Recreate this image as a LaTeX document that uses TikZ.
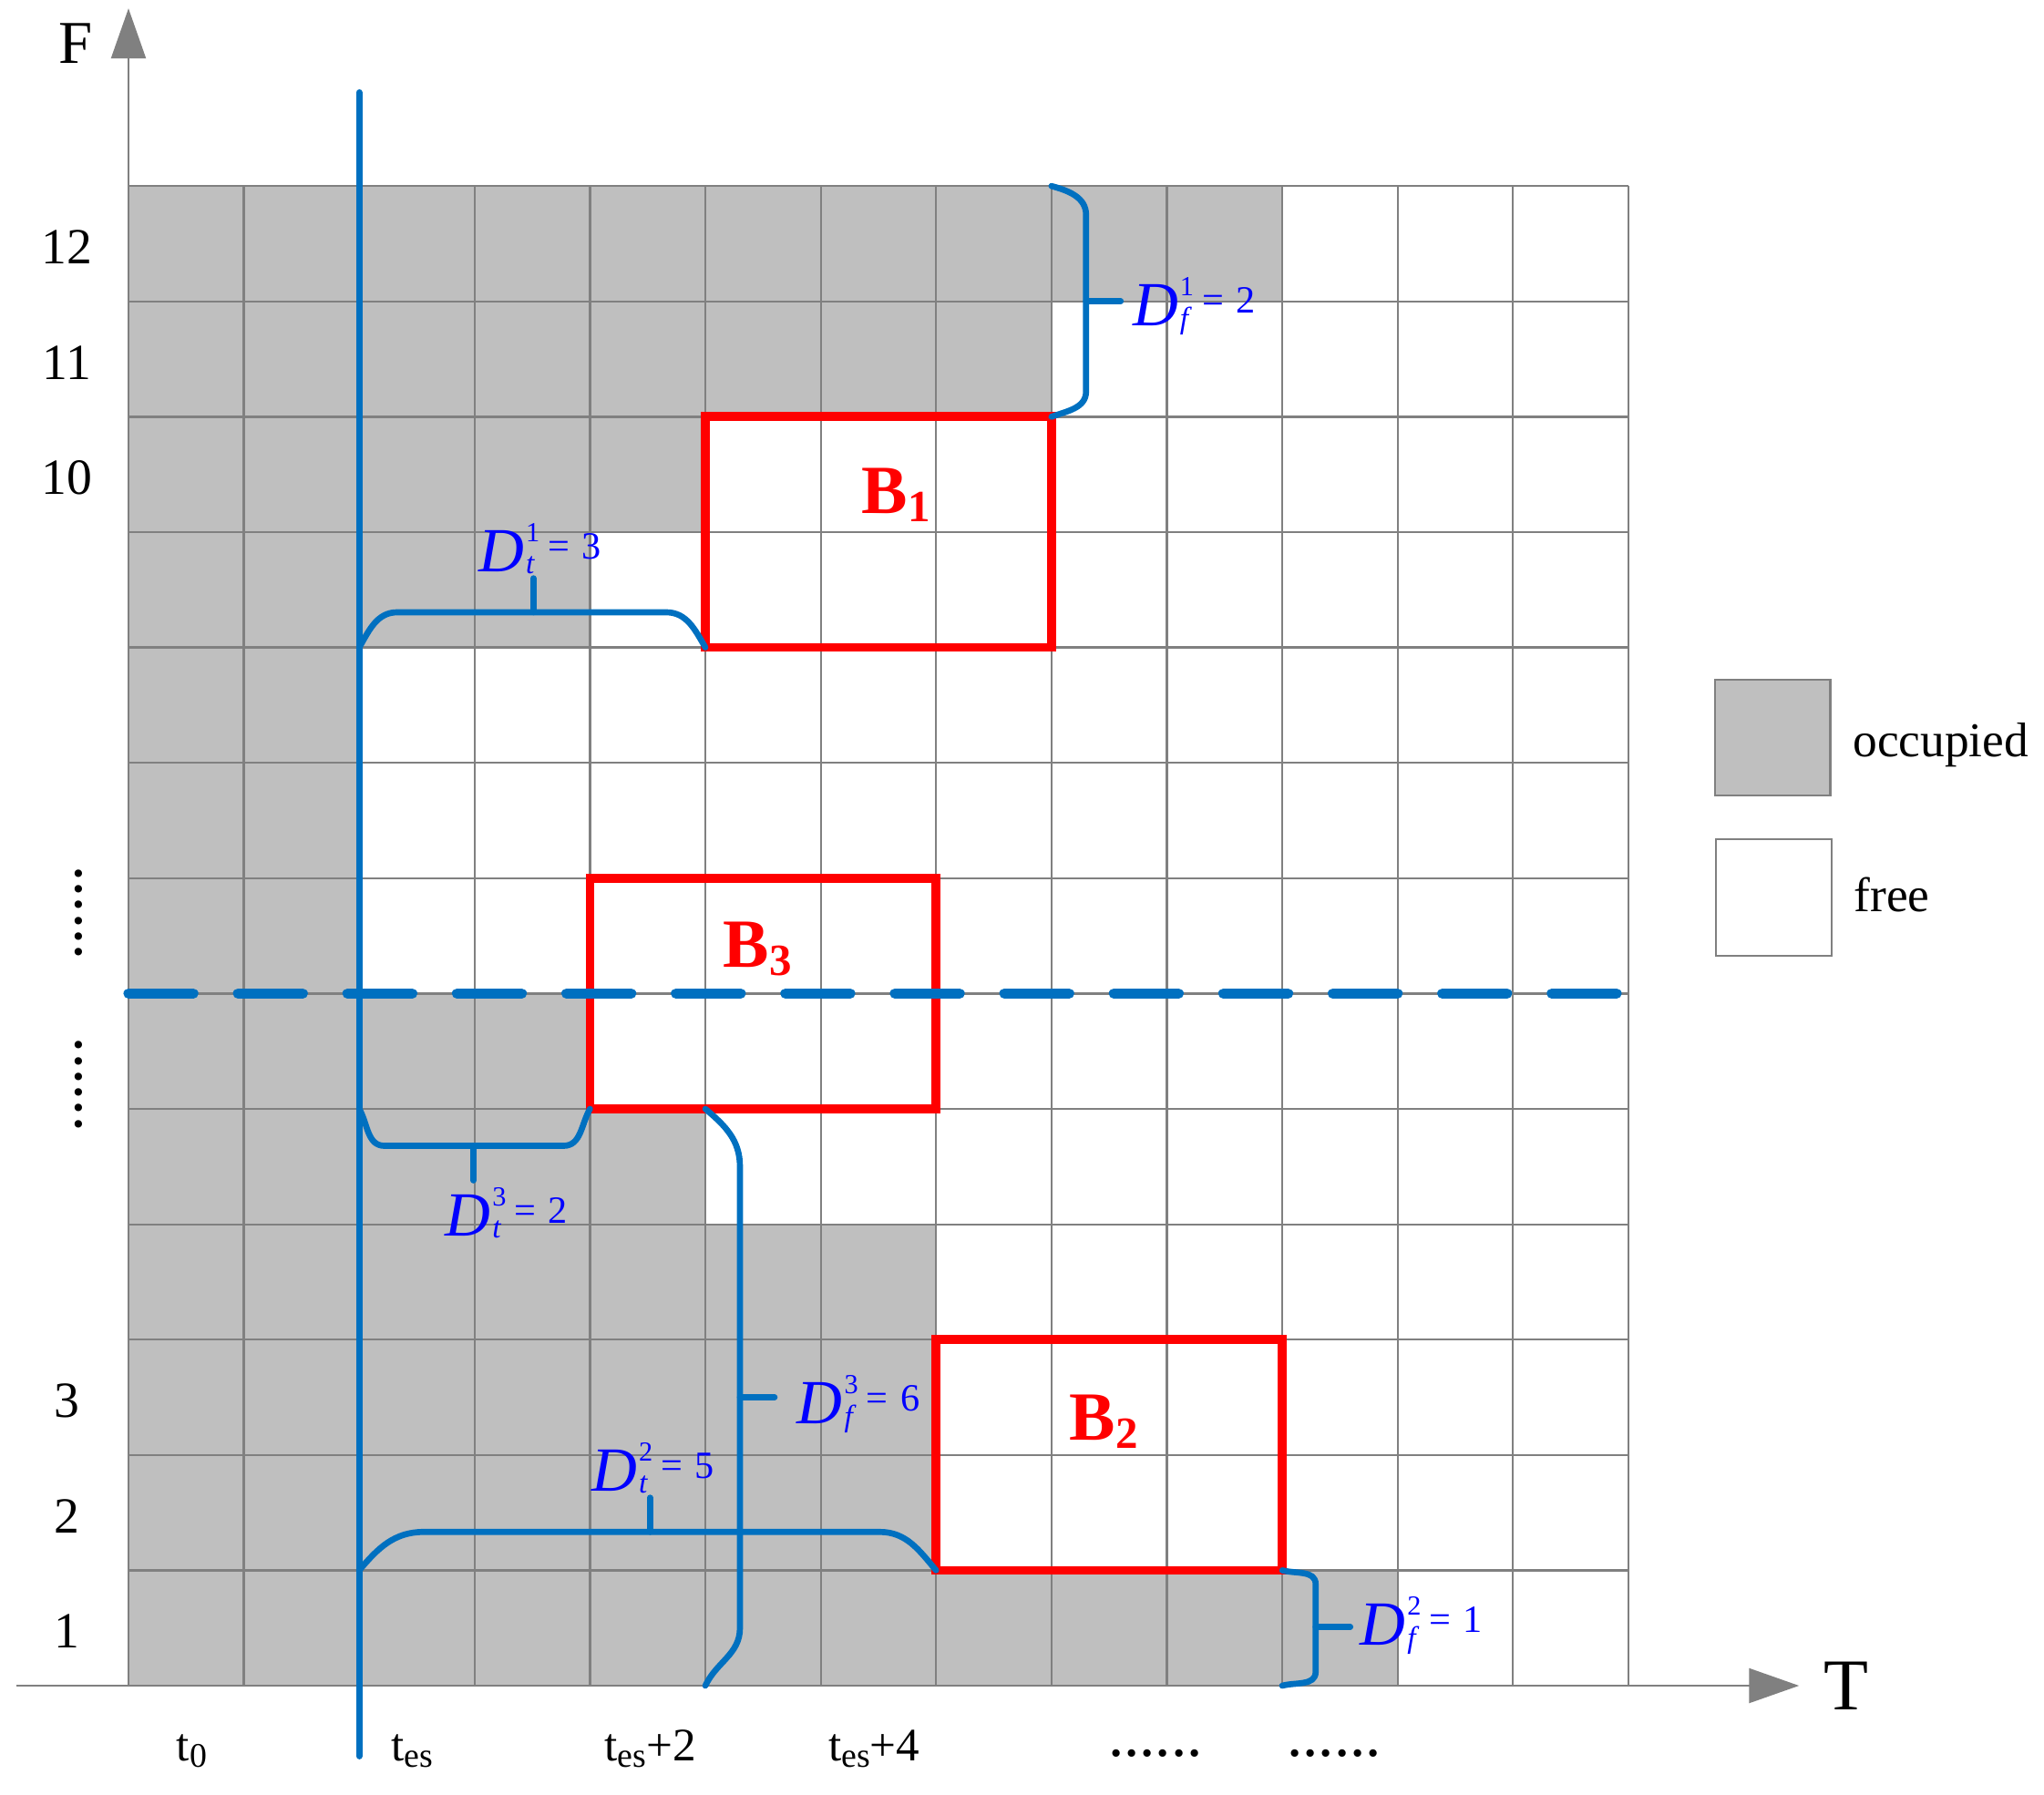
\documentclass[tikz,border=0pt]{standalone}
\usepackage{fontspec}
\setmainfont{Liberation Serif}
\usetikzlibrary{arrows.meta}
\definecolor{cellgray}{RGB}{191,191,191}
\definecolor{linegray}{RGB}{128,128,128}
\definecolor{myblue}{RGB}{0,112,192}
\definecolor{labblue}{RGB}{0,0,255}
\definecolor{boxred}{RGB}{255,0,0}
\newcommand{\Dlab}[3]{{\fontsize{15.5}{15.5}\selectfont\itshape D}\kern0.4pt\rlap{\raisebox{7.4pt}{\fontsize{6.8}{6.8}\selectfont #1}}\raisebox{-0.6pt}{\fontsize{7.5}{7.5}\selectfont\itshape #2}\hspace{3.4pt}\raisebox{3.1pt}{\fontsize{9.5}{9.5}\selectfont =\hspace{3pt}#3}}
\newcommand{\tsub}[1]{\raisebox{-1.6pt}{\fontsize{8.5}{8.5}\selectfont #1}}
\newcommand{\bsub}[1]{\raisebox{-2pt}{\fontsize{11}{11}\selectfont\bfseries #1}}
\begin{document}
\begin{tikzpicture}[x=1cm,y=1cm,
  gridline/.style={draw=linegray, line width=0.5pt},
  axisline/.style={draw=linegray, line width=0.55pt, -{Triangle[length=4.34mm,width=3.0mm]}},
  bluel/.style={draw=myblue, line width=1.65pt, line cap=round},
  brace/.style={draw=myblue, line width=1.5pt, line cap=round, line join=round},
  redbox/.style={draw=boxred, line width=2.2pt},
  dlab/.style={text=labblue, inner sep=0pt, anchor=base west},
  blab/.style={text=boxred, font=\fontsize{17}{17}\selectfont\bfseries, inner sep=0pt, anchor=base west},
  num/.style={font=\fontsize{12.5}{12.5}\selectfont, inner sep=0pt},
  tlab/.style={font=\fontsize{11.5}{11.5}\selectfont, inner sep=0pt, anchor=base west},
  dots/.style={font=\fontsize{15.5}{15.5}\selectfont, inner sep=0pt},
  legtext/.style={font=\fontsize{12}{12}\selectfont, inner sep=0pt, anchor=base west}
]
\useasboundingbox (-1.1137,-0.940) rectangle (16.603,14.613);
% occupied cells
\foreach \r/\n in {0/11,1/7,2/7,3/7,4/5,5/4,6/2,7/2,8/2,9/4,10/5,11/8,12/10}
  \fill[cellgray] (0,\r) rectangle (\n,\r+1);
\draw[gridline] (0,0) grid (13,13);
% axes
\draw[axisline] (0,0) -- (0,14.54);
\draw[axisline] (-0.975,0) -- (14.48,0);
\node[font=\fontsize{15}{15}\selectfont, inner sep=0pt] (F) at (-0.458,14.24) {F};
\node[font=\fontsize{18}{18}\selectfont, inner sep=0pt] (T) at (14.89,0) {T};
% row numbers
\foreach \r/\t in {12/12,11/11,10/10,2/3,1/2,0/1}
  \node[num] (n\t) at (-0.535,\r+0.47) {\t};
\node[dots, rotate=90] (vd1) at (-0.434,6.70) {......};
\node[dots, rotate=90] (vd2) at (-0.434,5.21) {......};
% time labels
\node[tlab] (t0) at (0.41,-0.648) {t\tsub{0}};
\node[tlab] (tes) at (2.27,-0.648) {t\tsub{es}};
\node[tlab] (tes2) at (4.12,-0.648) {t\tsub{es}+2};
\node[tlab] (tes4) at (6.06,-0.648) {t\tsub{es}+4};
\node[dots] (hd1) at (8.90,-0.59) {......};
\node[dots] (hd2) at (10.45,-0.59) {......};
% legend
\draw[gridline, fill=cellgray] (13.75,7.72) rectangle (14.75,8.72);
\draw[gridline, fill=white] (13.76,6.33) rectangle (14.76,7.34);
\node[legtext] (occ) at (14.94,8.05) {occupied};
\node[legtext] (free) at (14.95,6.71) {free};
% red boxes
\draw[redbox] (5,9) rectangle (8,11);
\draw[redbox] (7,1) rectangle (10,3);
\draw[redbox] (4,5) rectangle (7,7);
\node[blab] (b1) at (6.35,10.16) {B\bsub{1}};
\node[blab] (b2) at (8.15,2.13) {B\bsub{2}};
\node[blab] (b3) at (5.15,6.23) {B\bsub{3}};
% blue lines
\draw[myblue, line width=2.5pt, line cap=round, dash pattern=on 16pt off 11pt] (0,6) -- (13,6);
\draw[bluel] (2,13.81) -- (2,-0.61);
% braces
\draw[brace] (2,9) to[out=60,in=180] (2.33,9.305) -- (4.66,9.305) to[out=0,in=120] (5,9);
\draw[brace] (3.51,9.305) -- (3.51,9.60);
\draw[brace] (8,13) to[out=-15,in=90] (8.30,12.75) -- (8.30,11.22) to[out=-90,in=20] (8,11);
\draw[brace] (8.30,12) -- (8.60,12);
\draw[brace] (2,5) to[out=-60,in=180] (2.22,4.68) -- (3.77,4.68) to[out=0,in=-120] (4,5);
\draw[brace] (2.99,4.68) -- (2.99,4.38);
\draw[brace] (2,1) to[out=50,in=180] (2.56,1.333) -- (6.51,1.333) to[out=0,in=130] (7,1);
\draw[brace] (4.52,1.333) -- (4.52,1.63);
\draw[brace] (5,5) to[out=-40,in=90] (5.30,4.5) -- (5.30,0.5) to[out=-90,in=65] (5,0);
\draw[brace] (5.30,2.5) -- (5.60,2.5);
\draw[brace] (10,1) to[out=-15,in=90] (10.29,0.88) -- (10.29,0.12) to[out=-90,in=15] (10,0);
\draw[brace] (10.29,0.51) -- (10.59,0.51);
% brace labels
\node[dlab] (dt1) at (3.03,9.66) {\Dlab{1}{t}{3}};
\node[dlab] (df1) at (8.70,11.79) {\Dlab{1}{f}{2}};
\node[dlab] (dt3) at (2.74,3.90) {\Dlab{3}{t}{2}};
\node[dlab] (dt2) at (4.01,1.69) {\Dlab{2}{t}{5}};
\node[dlab] (df3) at (5.79,2.27) {\Dlab{3}{f}{6}};
\node[dlab] (df2) at (10.67,0.35) {\Dlab{2}{f}{1}};
\end{tikzpicture}
\end{document}
